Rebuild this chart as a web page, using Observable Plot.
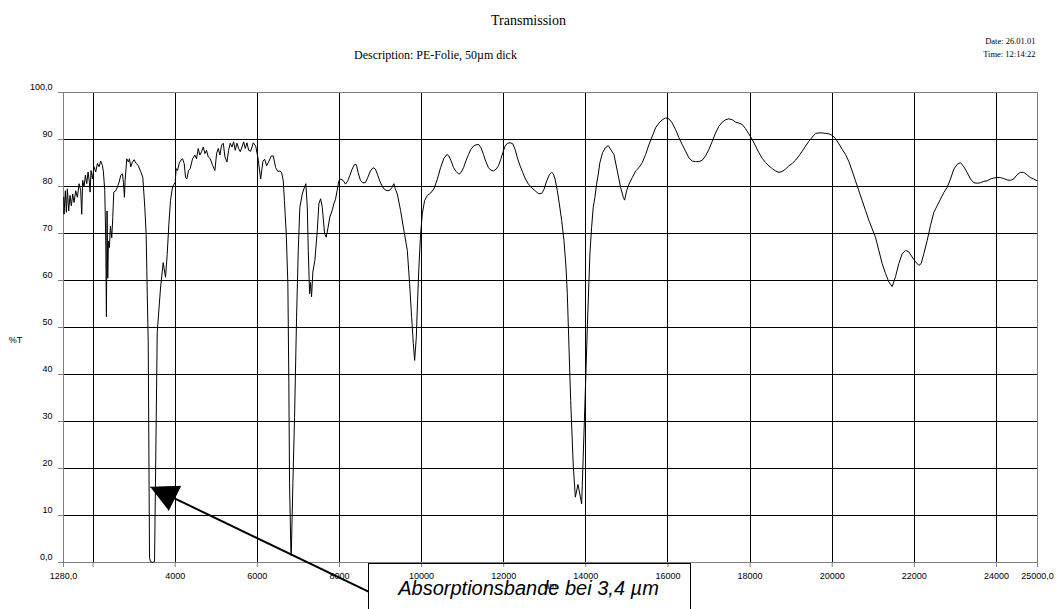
<!DOCTYPE html>
<html>
<head>
<meta charset="utf-8">
<script src="https://cdn.jsdelivr.net/npm/d3@7"></script>
<script src="https://cdn.jsdelivr.net/npm/@observablehq/plot@0.6"></script>
<style>
  html, body { margin: 0; padding: 0; background: #fff; }
  #chart svg { display: block; }
</style>
</head>
<body>
<div id="chart"></div>
<script>
// ---- Data ----
const wavelength = [
  1285, 1293, 1325, 1350, 1374, 1406, 1439, 1471, 1504, 1537, 1577, 1618, 1659, 1699, 1724, 1748, 1780, 1813, 1846, 1878,
  1911, 1927, 1951, 1984, 2024, 2065, 2106, 2146, 2187, 2228, 2252, 2285, 2309, 2325, 2341, 2358, 2374, 2398, 2423, 2455,
  2480, 2504, 2553, 2593, 2634, 2675, 2715, 2740, 2764, 2780, 2821, 2862, 2886, 2919, 2959, 3000, 3049, 3098, 3163, 3211,
  3260, 3293, 3320, 3343, 3375, 3399, 3448, 3497, 3563, 3643, 3708, 3765, 3805, 3846, 3886, 3935, 4000, 4024, 4057, 4097,
  4138, 4179, 4219, 4252, 4284, 4325, 4365, 4423, 4479, 4520, 4561, 4602, 4642, 4683, 4724, 4764, 4805, 4854, 4911, 4967,
  5008, 5049, 5090, 5130, 5171, 5211, 5260, 5301, 5341, 5382, 5423, 5463, 5504, 5545, 5585, 5626, 5667, 5707, 5748, 5789,
  5838, 5903, 5960, 6016, 6081, 6138, 6178, 6227, 6284, 6340, 6389, 6446, 6502, 6551, 6591, 6632, 6660, 6705, 6744, 6768,
  6785, 6817, 6827, 6866, 6907, 6956, 6997, 7036, 7095, 7151, 7183, 7217, 7241, 7273, 7297, 7321, 7353, 7402, 7460, 7499,
  7541, 7582, 7638, 7677, 7717, 7766, 7823, 7863, 7904, 7944, 7985, 8025, 8090, 8147, 8203, 8252, 8309, 8365, 8414, 8454,
  8511, 8568, 8633, 8689, 8754, 8819, 8876, 8924, 8981, 9038, 9094, 9159, 9224, 9281, 9326, 9360, 9409, 9489, 9570, 9653,
  9709, 9758, 9799, 9831, 9872, 9903, 9935, 9977, 10018, 10074, 10140, 10220, 10300, 10383, 10463, 10544, 10617, 10666, 10722, 10779,
  10844, 10909, 10965, 11022, 11087, 11144, 11200, 11265, 11330, 11395, 11451, 11508, 11565, 11630, 11686, 11751, 11816, 11873, 11929, 11978,
  12035, 12091, 12156, 12221, 12278, 12334, 12399, 12464, 12529, 12602, 12683, 12764, 12845, 12926, 12982, 13047, 13112, 13169, 13209, 13250,
  13306, 13355, 13412, 13468, 13517, 13549, 13631, 13696, 13745, 13809, 13899, 13955, 13994, 14037, 14100, 14141, 14181, 14222, 14262, 14303,
  14343, 14408, 14473, 14546, 14686, 14767, 14848, 14913, 14945, 14994, 15051, 15132, 15213, 15294, 15375, 15456, 15537, 15619, 15700, 15781,
  15862, 15943, 16024, 16105, 16187, 16268, 16349, 16430, 16511, 16592, 16673, 16755, 16836, 16917, 16998, 17079, 17160, 17241, 17323, 17404,
  17485, 17566, 17647, 17728, 17809, 17890, 17971, 18053, 18134, 18215, 18296, 18377, 18458, 18540, 18621, 18702, 18783, 18864, 18945, 19027,
  19108, 19189, 19270, 19351, 19432, 19513, 19595, 19676, 19757, 19838, 19919, 20000, 20081, 20162, 20244, 20325, 20406, 20487, 20568, 20649,
  20730, 20812, 20893, 20974, 21055, 21136, 21217, 21298, 21380, 21461, 21542, 21623, 21704, 21785, 21866, 21947, 22029, 22110, 22167, 22232,
  22313, 22394, 22475, 22556, 22637, 22718, 22799, 22881, 22962, 23043, 23124, 23205, 23286, 23367, 23449, 23530, 23611, 23692, 23773, 23854,
  23935, 24016, 24097, 24178, 24259, 24340, 24421, 24502, 24583, 24664, 24745, 24827, 24908, 24989
];
const transmission = [
  77.7, 74.1, 79.1, 74.5, 79.5, 74.8, 78.1, 75.9, 78.4, 76.6, 79.1, 77.7, 80.6, 79.1, 74.1, 81.3, 79.9, 82.4, 80.6, 83.1,
  80.9, 78.8, 83.4, 81.6, 84.2, 83.1, 84.9, 84.2, 85.4, 84.5, 83.1, 79.1, 68.4, 52.3, 74.8, 60.5, 68.4, 67.0, 71.6, 69.1,
  73.4, 78.8, 79.1, 79.9, 80.9, 82.4, 82.7, 80.9, 77.7, 81.3, 85.9, 85.2, 85.9, 84.2, 85.2, 85.7, 84.9, 84.5, 83.1, 82.0,
  75.6, 69.8, 57.0, 47.0, 1.0, 0.2, 0.0, 0.2, 49.0, 58.4, 63.8, 60.7, 65.5, 72.0, 77.0, 79.9, 80.9, 83.8, 83.4, 84.9,
  85.6, 85.9, 84.9, 82.0, 81.6, 83.4, 83.8, 85.9, 86.7, 85.9, 88.1, 86.7, 87.4, 88.4, 87.0, 87.7, 86.3, 85.9, 84.5, 83.4,
  87.0, 88.1, 86.7, 88.8, 89.2, 86.3, 85.2, 87.7, 89.2, 88.4, 89.5, 87.7, 89.2, 88.1, 87.4, 88.4, 89.5, 88.1, 89.3, 87.7,
  87.5, 89.3, 88.6, 86.1, 81.6, 85.4, 85.8, 84.4, 85.4, 86.5, 86.5, 84.0, 83.2, 83.3, 83.0, 81.2, 77.0, 69.9, 59.3, 38.0,
  16.8, 2.5, 1.5, 16.8, 30.9, 52.2, 66.4, 75.6, 78.4, 79.9, 80.6, 75.6, 66.4, 57.2, 59.6, 56.5, 61.8, 64.3, 70.6, 76.3,
  77.4, 75.6, 70.0, 69.2, 71.0, 73.5, 74.9, 76.3, 77.3, 79.1, 81.2, 81.6, 81.3, 80.5, 81.2, 82.3, 83.7, 84.7, 84.6, 83.0,
  81.3, 80.8, 80.8, 81.9, 83.3, 84.0, 83.7, 82.6, 81.2, 80.1, 79.4, 79.1, 79.2, 79.8, 80.6, 79.5, 78.4, 74.9, 70.6, 66.4,
  59.3, 52.2, 46.6, 43.0, 47.9, 55.7, 62.8, 69.9, 74.2, 77.0, 78.1, 78.6, 79.5, 81.5, 84.0, 86.0, 86.8, 86.5, 85.4, 84.0,
  83.2, 82.6, 83.0, 84.0, 85.6, 86.8, 87.9, 88.6, 88.9, 88.9, 88.2, 86.8, 85.3, 84.0, 83.5, 83.3, 83.7, 84.4, 85.8, 87.2,
  88.6, 89.2, 89.3, 89.1, 87.9, 86.1, 84.4, 83.0, 81.6, 80.5, 79.7, 79.1, 78.5, 78.5, 79.4, 81.2, 82.5, 83.0, 82.7, 81.6,
  79.1, 76.3, 72.8, 68.5, 62.9, 57.3, 34.5, 20.3, 13.9, 16.6, 12.5, 27.4, 38.0, 50.1, 65.7, 71.3, 75.6, 77.7, 80.5, 82.6,
  85.1, 87.2, 88.2, 88.7, 86.8, 83.3, 79.8, 77.7, 77.1, 79.1, 80.5, 81.9, 83.3, 84.0, 85.1, 86.8, 88.9, 90.7, 92.5, 93.5,
  94.2, 94.6, 94.4, 93.5, 92.1, 90.4, 88.9, 87.5, 86.1, 85.4, 85.3, 85.3, 85.6, 86.5, 87.9, 89.6, 91.4, 92.8, 93.7, 94.2,
  94.4, 94.2, 93.7, 93.5, 93.2, 92.3, 91.2, 90.0, 88.6, 87.2, 86.0, 85.1, 84.4, 83.8, 83.3, 83.0, 83.2, 83.7, 84.4, 84.9,
  85.6, 86.5, 87.5, 88.6, 89.6, 90.5, 91.3, 91.4, 91.4, 91.3, 91.2, 90.9, 90.2, 89.1, 87.9, 86.8, 85.3, 83.3, 81.2, 79.1,
  77.0, 74.9, 72.8, 71.0, 69.2, 66.4, 63.6, 61.5, 59.7, 58.7, 60.8, 63.6, 65.7, 66.4, 66.1, 65.0, 64.0, 63.2, 63.6, 65.7,
  68.5, 71.7, 74.5, 75.9, 77.3, 78.7, 79.8, 81.6, 83.7, 84.7, 85.1, 84.2, 83.0, 81.6, 80.8, 80.7, 80.8, 81.1, 81.2, 81.6,
  81.8, 81.9, 81.9, 81.7, 81.4, 81.3, 81.6, 82.5, 83.0, 83.0, 82.5, 81.9, 81.6, 81.2
];

const xTicks = [1280, 2000, 4000, 6000, 8000, 10000, 12000, 14000, 16000, 18000, 20000, 22000, 24000, 25000];
const xTickLabels = ["1280,0", "", "4000", "6000", "8000", "10000", "12000", "14000", "16000", "18000", "20000", "22000", "24000", "25000,0"];
const xGrid = [2000, 4000, 6000, 8000, 10000, 12000, 14000, 16000, 18000, 20000, 22000, 24000];
const yTicks = [0, 10, 20, 30, 40, 50, 60, 70, 80, 90, 100];
const yTickLabels = ["0,0", "10", "20", "30", "40", "50", "60", "70", "80", "90", "100,0"];
const yGrid = [10, 20, 30, 40, 50, 60, 70, 80, 90];

const titleText = "Transmission";
const subtitleText = "Description: PE-Folie, 50µm dick";
const dateText = "Date: 26.01.01";
const timeText = "Time: 12:14:22";
const yLabel = "%T";
const xLabel = "nm";

// annotation (in data units)
const annotationLabel = [{x: 12604, y: -5.6, text: "Absorptionsbande bei 3,4 µm"}];
const annotationBox = [{x1: 8708, x2: 16550, y1: -0.4, y2: -30}];
const arrowShaft = [{x1: 8708, y1: -6.2, x2: 3983, y2: 13.65}];
const arrowHead = [{x: 3400, y: 16.0}, {x: 4129, y: 16.2}, {x: 3837, y: 11.1}];

const spectrum = wavelength.map((w, i) => ({w, t: transmission[i]}));

const serif = "'Liberation Serif', 'Times New Roman', serif";
const sans = "'Liberation Sans', Arial, sans-serif";

const chart = Plot.plot({
  width: 1056,
  height: 609,
  marginLeft: 63,
  marginRight: 19,
  marginTop: 92,
  marginBottom: 47,
  x: {domain: [1280, 25000]},
  y: {domain: [0, 100]},
  style: {fontFamily: sans, fontSize: "9px", color: "black", background: "white", overflow: "hidden"},
  marks: [
    Plot.ruleX(xGrid, {stroke: "black", strokeWidth: 1, shapeRendering: "crispEdges"}),
    Plot.ruleY(yGrid, {stroke: "black", strokeWidth: 1, shapeRendering: "crispEdges"}),
    Plot.frame({stroke: "#808080", strokeWidth: 1, shapeRendering: "crispEdges"}),
    Plot.axisX({ticks: xTicks, tickSize: 5, tickPadding: 5, stroke: "#808080",
      tickFormat: (d) => xTickLabels[xTicks.indexOf(d)], label: null, fill: "black"}),
    Plot.axisY({ticks: yTicks, tickSize: 5, stroke: "#808080", tickFormat: () => "", label: null}),
    Plot.axisY({ticks: yTicks, tickSize: 0, tickPadding: 11, dy: -5,
      tickFormat: (d) => yTickLabels[yTicks.indexOf(d)], label: null, fill: "black"}),
    Plot.line(spectrum, {x: "w", y: "t", stroke: "black", strokeWidth: 1}),
    // titles
    Plot.text([titleText], {text: (d) => d, frameAnchor: "top", dx: -22, dy: -77, fontFamily: serif, fontSize: 14}),
    Plot.text([subtitleText], {text: (d) => d, frameAnchor: "top", dx: -115, dy: -42, fontFamily: serif, fontSize: 12}),
    Plot.text([dateText], {text: (d) => d, frameAnchor: "top-right", textAnchor: "end", dx: -2, dy: -55, fontFamily: serif, fontSize: 8.5}),
    Plot.text([timeText], {text: (d) => d, frameAnchor: "top-right", textAnchor: "end", dx: -2, dy: -42, fontFamily: serif, fontSize: 8.5}),
    Plot.text([yLabel], {text: (d) => d, frameAnchor: "left", textAnchor: "middle", dx: -48, dy: 13, fontSize: 9}),
    Plot.text([xLabel], {text: (d) => d, frameAnchor: "bottom", textAnchor: "middle", dy: 26, fontSize: 9}),
    // annotation
    Plot.rect(annotationBox, {x1: "x1", x2: "x2", y1: "y1", y2: "y2", fill: "none", stroke: "black", strokeWidth: 1, shapeRendering: "crispEdges"}),
    Plot.link(arrowShaft, {x1: "x1", y1: "y1", x2: "x2", y2: "y2", stroke: "black", strokeWidth: 2}),
    Plot.line(arrowHead, {x: "x", y: "y", fill: "black", stroke: "black", strokeWidth: 1}),
    Plot.text(annotationLabel, {x: "x", y: "y", text: "text", fontSize: 20, fontStyle: "italic", fontFamily: sans, textAnchor: "middle"})
  ]
});

document.getElementById("chart").appendChild(chart);
</script>
</body>
</html>
